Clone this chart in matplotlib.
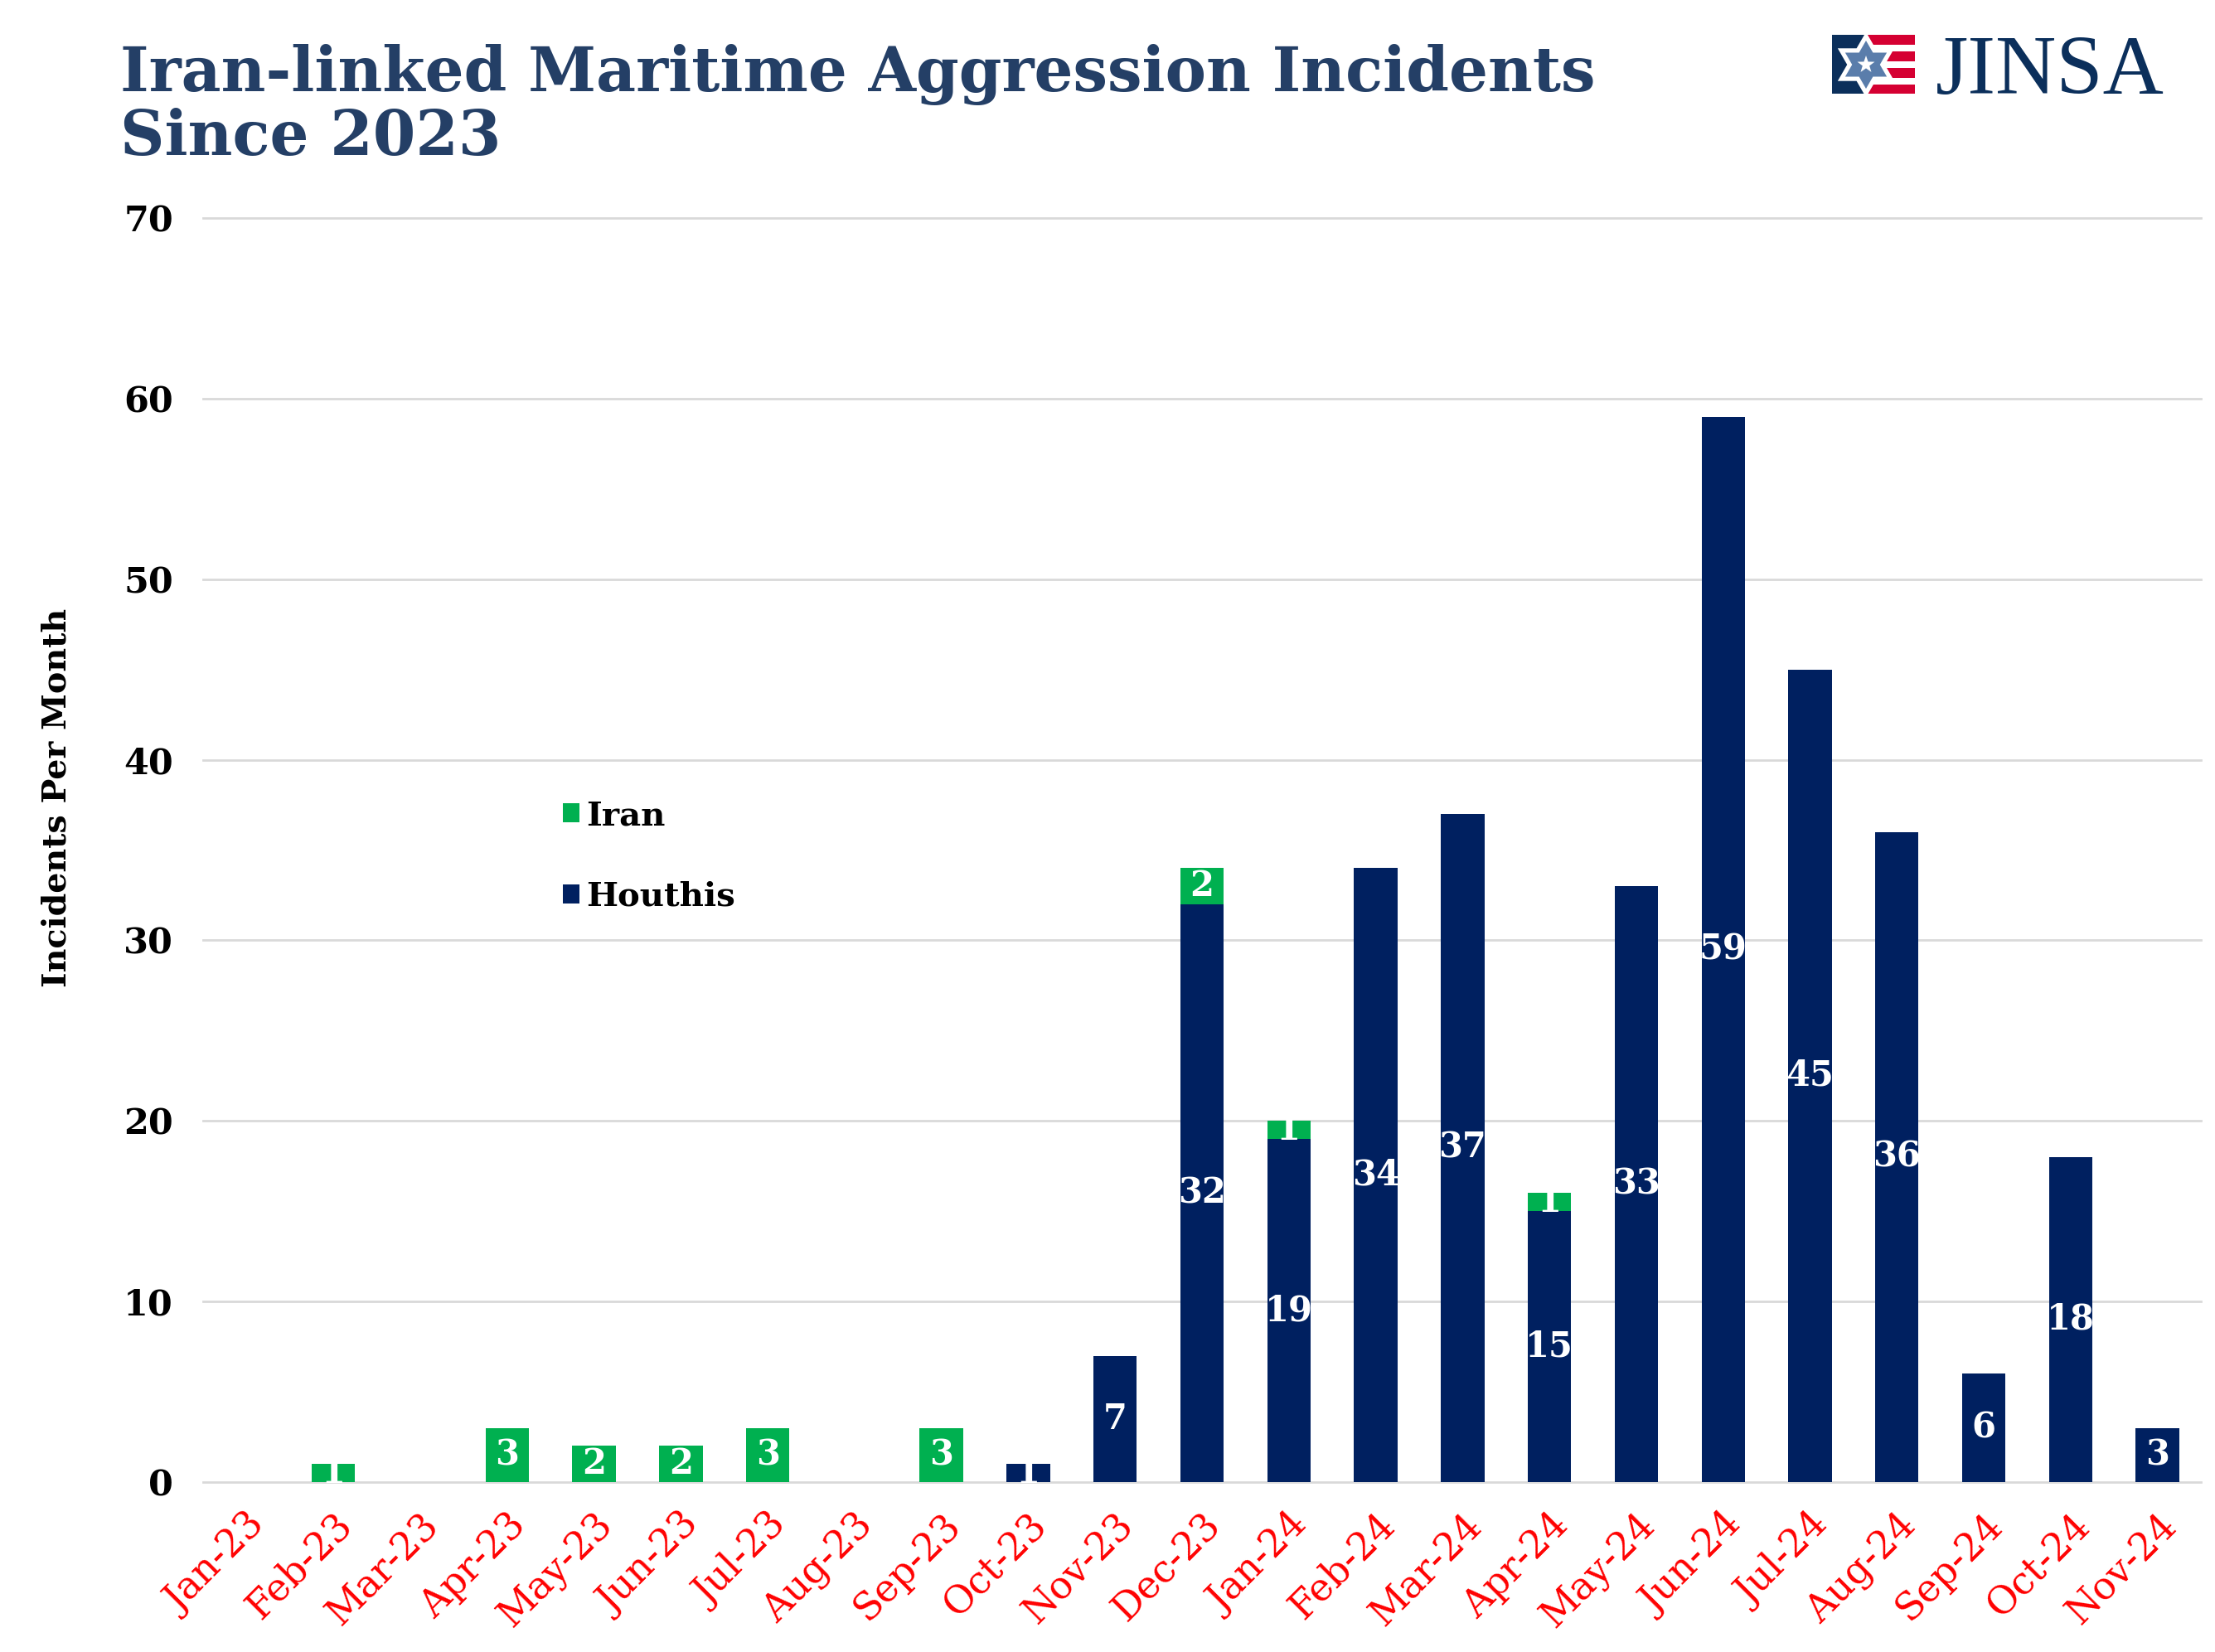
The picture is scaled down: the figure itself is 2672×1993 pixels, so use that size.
import matplotlib
matplotlib.use('Agg')
import matplotlib.pyplot as plt
from matplotlib.patches import Rectangle, Polygon
import numpy as np

# ---------------- data ----------------
months = ['Jan-23', 'Feb-23', 'Mar-23', 'Apr-23', 'May-23', 'Jun-23', 'Jul-23', 'Aug-23',
          'Sep-23', 'Oct-23', 'Nov-23', 'Dec-23', 'Jan-24', 'Feb-24', 'Mar-24', 'Apr-24',
          'May-24', 'Jun-24', 'Jul-24', 'Aug-24', 'Sep-24', 'Oct-24', 'Nov-24']
houthis = [0, 0, 0, 0, 0, 0, 0, 0, 0, 1, 7, 32, 19, 34, 37, 15, 33, 59, 45, 36, 6, 18, 3]
iran = [0, 1, 0, 3, 2, 2, 3, 0, 3, 0, 0, 2, 1, 0, 0, 1, 0, 0, 0, 0, 0, 0, 0]
yticks = [0, 10, 20, 30, 40, 50, 60, 70]

title_line1 = 'Iran-linked Maritime Aggression Incidents'
title_line2 = 'Since 2023'
ylabel = 'Incidents Per Month'

NAVY = '#002060'
GREEN = '#00B050'
TITLE_C = '#243f66'
LOGO_NAVY = '#0b2f5b'
LOGO_RED = '#d50032'
LOGO_BLUE = '#5a7dab'
SERIF = 'DejaVu Serif'

W, H = 2672, 1993
fig = plt.figure(figsize=(W / 100, H / 100), dpi=100)

# ---------------- main axes ----------------
ax = fig.add_axes([245 / W, 1 - 1788 / H, 2410 / W, (1788 - 263) / H])
x = np.arange(len(months))
hb = ax.bar(x, houthis, width=0.5, color=NAVY, zorder=3, label='Houthis')
ib = ax.bar(x, iran, width=0.5, bottom=houthis, color=GREEN, zorder=3, label='Iran')

lab_kw = dict(label_type='center', color='white', fontsize=30, fontweight='bold', family=SERIF)
ax.bar_label(hb, labels=[str(v) if v else '' for v in houthis], **lab_kw)
ax.bar_label(ib, labels=[str(v) if v else '' for v in iran], **lab_kw)

ax.set_xlim(-0.5, len(months) - 0.5)
ax.set_ylim(0, 70)
ax.set_yticks(yticks)
ax.set_xticks(x)
ax.set_xticklabels(months, rotation=45, ha='right', va='top', rotation_mode='anchor',
                   color='#ff0000', fontsize=33, family=SERIF)
for t in ax.get_yticklabels():
    t.set_fontfamily(SERIF)
    t.set_fontweight('bold')
    t.set_fontsize(31)
ax.tick_params(axis='y', length=0, pad=26)
ax.tick_params(axis='x', length=0, pad=21)
ax.grid(axis='y', color='#d9d9d9', linewidth=2.0, zorder=0)
ax.set_axisbelow(True)
for gl in ax.get_ygridlines():
    gl.set_clip_on(False)
for s in ax.spines.values():
    s.set_visible(False)

ax.set_ylabel(ylabel, fontsize=28.5, fontweight='bold', family=SERIF, color='black')
ax.yaxis.set_label_coords((88 - 245) / 2410, (1788 - 962) / (1788 - 263))

leg = ax.legend([ib, hb], ['Iran', 'Houthis'], loc='center left',
                bbox_to_anchor=(679 / W, 1 - 1033 / H), bbox_transform=fig.transFigure,
                frameon=False, handlelength=0.5, handleheight=0.5, handletextpad=0.2,
                labelspacing=1.48, borderpad=0, borderaxespad=0,
                prop=dict(family=SERIF, weight='bold', size=29))

# ---------------- title ----------------
fig.text(145 / W, 1 - 110 / H, title_line1, fontsize=53.3, fontweight='bold', family=SERIF,
         color=TITLE_C, va='baseline', ha='left')
fig.text(145 / W, 1 - 187 / H, title_line2, fontsize=53.3, fontweight='bold', family=SERIF,
         color=TITLE_C, va='baseline', ha='left')

# ---------------- logo ----------------
lx0, lx1, ly0, ly1 = 2200, 2320, 30, 125
axl = fig.add_axes([lx0 / W, 1 - ly1 / H, (lx1 - lx0) / W, (ly1 - ly0) / H])
axl.set_xlim(lx0, lx1)
axl.set_ylim(ly1, ly0)
axl.axis('off')
cx, cy = 2251, 78
axl.add_patch(Rectangle((2210, 42), cx - 2210, 71, color=LOGO_NAVY, lw=0))
for (a, b) in [(42, 54), (62, 74), (82, 94), (102, 113)]:
    axl.add_patch(Rectangle((cx, a), 2310 - cx, b - a, color=LOGO_RED, lw=0))
r = 29
hexv = []
for k in range(12):
    ang = np.deg2rad(90 - 30 * k)
    rr = r if k % 2 == 0 else r / np.sqrt(3)
    hexv.append((cx + rr * np.cos(ang), cy - rr * np.sin(ang)))
axl.add_patch(Polygon(hexv, closed=True, facecolor=LOGO_BLUE, edgecolor='white',
                      lw=7.5, joinstyle='miter'))
axl.add_patch(Polygon(hexv, closed=True, facecolor=LOGO_BLUE, edgecolor='none'))
sv = []
for k in range(10):
    ang = np.deg2rad(90 + 36 * k)
    rr = 11 if k % 2 == 0 else 4.4
    sv.append((cx + rr * np.cos(ang), cy - rr * np.sin(ang)))
axl.add_patch(Polygon(sv, closed=True, facecolor='white', edgecolor='none'))

fig.text(2335 / W, 1 - 113 / H, 'JINSA', fontsize=73, family='Liberation Serif',
         color=LOGO_NAVY, va='baseline', ha='left')

fig.savefig('out.png', dpi=100, facecolor='white')
